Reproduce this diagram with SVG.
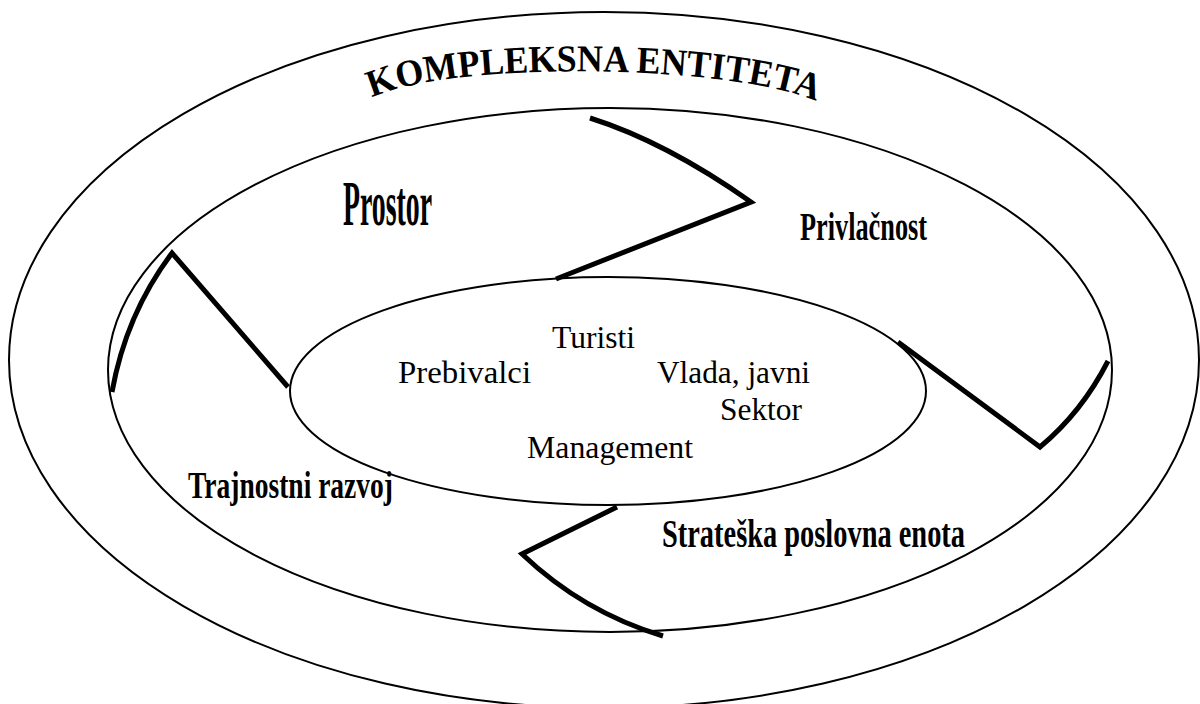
<svg xmlns="http://www.w3.org/2000/svg" width="1200" height="704" viewBox="0 0 1200 704">
  <style>
    .ring { fill: none; stroke: #000; stroke-width: 2; }
    .divider { fill: none; stroke: #000; stroke-width: 5; stroke-linejoin: miter; stroke-linecap: butt; }
    .title { font-family: "Liberation Serif", "Times New Roman", serif; font-weight: bold; font-size: 38px; fill: #000; }
    .area { font-family: "Liberation Serif", "Times New Roman", serif; font-weight: bold; fill: #000; }
    .actor { font-family: "Liberation Serif", "Times New Roman", serif; font-size: 31px; fill: #000; }
  </style>
  <defs>
    <path id="titleArc" d="M372,98 C450,60 734,64 818,102"/>
  </defs>
  <rect width="1200" height="704" fill="#fff"/>

  <!-- outer ring: the complex entity -->
  <g id="outer">
    <ellipse class="ring" cx="604" cy="360" rx="595" ry="348"/>
    <text class="title"><textPath href="#titleArc" textLength="450" lengthAdjust="spacingAndGlyphs">KOMPLEKSNA ENTITETA</textPath></text>
  </g>

  <!-- middle ring with its four areas -->
  <g id="middle">
    <ellipse class="ring" cx="610" cy="370" rx="502" ry="262"/>
  </g>

  <g id="prostor">
    <text class="area" x="343" y="225" font-size="63" textLength="89" lengthAdjust="spacingAndGlyphs">Prostor</text>
  </g>
  <g id="privlacnost">
    <text class="area" x="800" y="240" font-size="41" textLength="127" lengthAdjust="spacingAndGlyphs">Privlačnost</text>
  </g>
  <g id="trajnostni-razvoj">
    <text class="area" x="188" y="498" font-size="38" textLength="205" lengthAdjust="spacingAndGlyphs">Trajnostni razvoj</text>
  </g>
  <g id="strateska-enota">
    <text class="area" x="662" y="547" font-size="40" textLength="303" lengthAdjust="spacingAndGlyphs">Strateška poslovna enota</text>
  </g>

  <!-- inner core: stakeholders -->
  <g id="inner">
    <ellipse class="ring" cx="608" cy="391" rx="318" ry="114"/>
    <text class="actor" x="552" y="348" textLength="83" lengthAdjust="spacingAndGlyphs">Turisti</text>
    <text class="actor" x="398" y="383" textLength="133" lengthAdjust="spacingAndGlyphs">Prebivalci</text>
    <text class="actor" x="657" y="383" textLength="153" lengthAdjust="spacingAndGlyphs">Vlada, javni</text>
    <text class="actor" x="720" y="420" textLength="82" lengthAdjust="spacingAndGlyphs">Sektor</text>
    <text class="actor" x="527" y="458" textLength="166" lengthAdjust="spacingAndGlyphs">Management</text>
  </g>

  <!-- dividers between the areas of the middle ring -->
  <g id="connectors">
    <path class="divider" d="M112,392 Q126,314 172,253 L288,387"/>
    <path class="divider" d="M590,118 Q666,142 751,202 L556,279"/>
    <path class="divider" d="M898,342 L1040,447 Q1082,412 1108,361"/>
    <path class="divider" d="M617,507 L522,554 Q583,612 663,636"/>
  </g>
</svg>
